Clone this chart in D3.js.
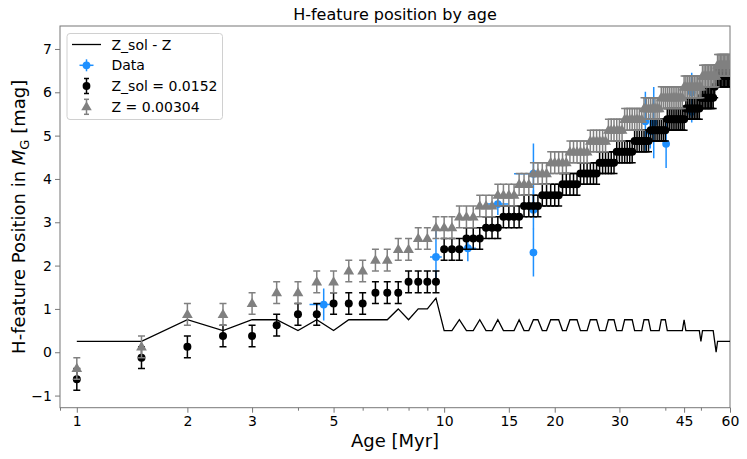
<!DOCTYPE html>
<html><head><meta charset="utf-8">
<script src="https://cdn.jsdelivr.net/npm/d3@7"></script>
<style>body{margin:0;background:#fff} svg{display:block} text{font-family:"DejaVu Sans",sans-serif}</style>
</head><body><svg id="c" width="747" height="459"></svg>
<script>
const ages = [1,1.5,2,2.5,3,3.5,4,4.5,5,5.5,6,6.5,7,7.5,8,8.5,9,9.5,10,10.5,11,11.5,12,12.5,13,13.5,14,14.5,15,15.5,16,16.5,17,17.5,18,18.5,19,19.5,20,20.5,21,21.5,22,22.5,23,23.5,24,24.5,25,25.5,26,26.5,27,27.5,28,28.5,29,29.5,30,30.5,31,31.5,32,32.5,33,33.5,34,34.5,35,35.5,36,36.5,37,37.5,38,38.5,39,39.5,40,40.5,41,41.5,42,42.5,43,43.5,44,44.5,45,45.5,46,46.5,47,47.5,48,48.5,49,49.5,50,50.5,51,51.5,52,52.5,53,53.5,54,54.5,55,55.5,56,56.5,57,57.5,58,58.5,59,59.5,60];
const zSolar = [
 -0.625,-0.125,0.125,0.375,0.375,0.625,0.875,0.875,1.125,1.125,
 1.125,1.375,1.375,1.375,1.625,1.625,1.625,1.625,2.375,2.375,
 2.375,2.625,2.625,2.625,2.875,2.875,2.875,3.125,3.125,3.125,
 3.125,3.375,3.375,3.375,3.375,3.625,3.625,3.625,3.625,3.625,
 3.875,3.875,3.875,3.875,3.875,4.125,4.125,4.125,4.125,4.125,
 4.125,4.375,4.375,4.375,4.375,4.375,4.375,4.625,4.625,4.625,
 4.625,4.625,4.625,4.625,4.875,4.875,4.875,4.875,4.875,4.875,
 4.875,5.125,5.125,5.125,5.125,5.125,5.125,5.125,5.125,5.375,
 5.375,5.375,5.375,5.375,5.375,5.375,5.375,5.375,5.375,5.625,
 5.625,5.625,5.625,5.625,5.625,5.625,5.625,5.625,5.875,5.875,
 5.875,5.875,5.875,5.875,5.875,5.875,5.875,6.125,6.375,6.375,
 6.375,6.375,6.375,6.375,6.375,6.375,6.375,6.375,6.375];
const zLow = [
 -0.375,0.125,0.875,0.875,1.125,1.375,1.375,1.625,1.625,1.875,
 1.875,2.125,2.125,2.375,2.375,2.625,2.625,2.875,2.875,2.875,
 3.125,3.125,3.125,3.375,3.375,3.375,3.625,3.625,3.625,3.625,
 3.875,3.875,3.875,4.125,4.125,4.125,4.125,4.375,4.375,4.375,
 4.375,4.375,4.625,4.625,4.625,4.625,4.625,4.625,4.875,4.875,
 4.875,4.875,4.875,4.875,5.125,5.125,5.125,5.125,5.125,5.125,
 5.375,5.375,5.375,5.375,5.375,5.375,5.375,5.375,5.625,5.625,
 5.625,5.625,5.625,5.625,5.625,5.625,5.875,5.875,5.875,5.875,
 5.875,5.875,5.875,5.875,5.875,5.875,5.875,5.875,6.125,6.125,
 6.125,6.125,6.125,6.125,6.125,6.125,6.125,6.125,6.125,6.375,
 6.375,6.375,6.375,6.375,6.375,6.375,6.375,6.375,6.375,6.625,
 6.625,6.625,6.625,6.625,6.625,6.625,6.625,6.625,6.625];
const zDiff = [
 0.25,0.25,0.75,0.5,0.75,0.75,0.5,0.75,0.5,0.75,
 0.75,0.75,0.75,1.0,0.75,1.0,1.0,1.25,0.5,0.5,
 0.75,0.5,0.5,0.75,0.5,0.5,0.75,0.5,0.5,0.5,
 0.75,0.5,0.5,0.75,0.75,0.5,0.5,0.75,0.75,0.75,
 0.5,0.5,0.75,0.75,0.75,0.5,0.5,0.5,0.75,0.75,
 0.75,0.5,0.5,0.5,0.75,0.75,0.75,0.5,0.5,0.5,
 0.75,0.75,0.75,0.75,0.5,0.5,0.5,0.5,0.75,0.75,
 0.75,0.5,0.5,0.5,0.5,0.5,0.75,0.75,0.75,0.5,
 0.5,0.5,0.5,0.5,0.5,0.5,0.5,0.5,0.75,0.5,
 0.5,0.5,0.5,0.5,0.5,0.5,0.5,0.5,0.25,0.5,
 0.5,0.5,0.5,0.5,0.5,0.5,0.5,0.25,0,0.25,
 0.25,0.25,0.25,0.25,0.25,0.25,0.25,0.25,0.25];
const solarErr = 0.25;
const lowErr = 0.25;
const dataAge    = [4.7, 9.5, 11.6, 14.0, 17.5, 17.5, 17.5, 35.3, 36.4, 37.2, 40.2, 47.2, 47.2];
const dataAgeErr = [0.4, 0.35, 0.6, 1.0, 2.0, 0.5, 0.0, 0.5, 0.5, 0.5, 0.5, 0.5, 0.5];
const dataMag    = [1.1, 2.2, 2.4, 3.42, 4.12, 3.29, 2.3, 5.33, 5.1, 5.3, 4.81, 6.0, 5.55];
const dataMagErr = [0.37, 0.63, 0.3, 0.25, 0.7, 0.45, 0.55, 0.68, 0.4, 0.82, 0.56, 0.45, 0.25];
const xTicks = [1,2,3,5,10,15,20,30,45,60];
const xMinorTicks = [0.9,4,6,7,8,9,40,50];
const yTicks = [-1,0,1,2,3,4,5,6,7];
const legendLabels = ["Z_sol - Z","Data","Z_sol = 0.0152","Z = 0.00304"];

const svg = d3.select("#c");
const L = 60, R = 730, T = 26, B = 407.7;
const x = d3.scaleLog().domain([0.9, 60]).range([L, R]);
const y = d3.scaleLinear().domain([-1.28, 7.53]).range([B, T]);
const spine = "#777";

// title
svg.append("text").attr("x", (L+R)/2).attr("y", 19.5).attr("text-anchor","middle")
  .attr("font-size", 16).text("H-feature position by age");

// axes
const xAxis = d3.axisBottom(x).tickValues(xTicks).tickFormat(d3.format("d")).tickSize(5).tickPadding(3);
const gx = svg.append("g").attr("transform", `translate(0,${B})`).call(xAxis);
const xMinor = d3.axisBottom(x).tickValues(xMinorTicks).tickFormat("").tickSize(3);
const gxm = svg.append("g").attr("transform", `translate(0,${B})`).call(xMinor);
gxm.select(".domain").remove();
const yAxis = d3.axisLeft(y).tickValues(yTicks).tickFormat(d => d < 0 ? "\u2212" + Math.abs(d) : d).tickSize(5).tickPadding(3);
const gy = svg.append("g").attr("transform", `translate(${L},0)`).call(yAxis);
[gx, gxm, gy].forEach(g => {
  g.selectAll("line").attr("stroke", spine);
  g.selectAll("text").attr("font-size", 14).attr("fill", "#000").style("font-family","DejaVu Sans");
  g.select(".domain").remove();
});
svg.append("rect").attr("x", L).attr("y", T).attr("width", R-L).attr("height", B-T)
  .attr("fill","none").attr("stroke", spine).attr("stroke-width", 1);

// axis labels
svg.append("text").attr("x", (L+R)/2).attr("y", 447).attr("text-anchor","middle")
  .attr("font-size", 18).text("Age [Myr]");
const yl = svg.append("text").attr("transform", `translate(25,${(T+B)/2}) rotate(-90)`)
  .attr("text-anchor","middle").attr("font-size", 18);
yl.append("tspan").text("H-feature Position in ");
yl.append("tspan").attr("font-style","italic").text("M");
yl.append("tspan").attr("font-size", 13).attr("dy", 4).text("G");
yl.append("tspan").attr("dy", -4).text(" [mag]");

const plot = svg.append("g");
plot.append("clipPath").attr("id","clip").append("rect").attr("x", L).attr("y", T).attr("width", R-L).attr("height", B-T);
const pg = plot.append("g").attr("clip-path","url(#clip)");

// difference line
pg.append("path").datum(ages.map((a,i)=>[a, zDiff[i]]))
  .attr("d", d3.line().x(d=>x(d[0])).y(d=>y(d[1])))
  .attr("fill","none").attr("stroke","#000").attr("stroke-width",1.3);

// blue data
const blue = "#1e90ff";
dataAge.forEach((a,i) => {
  const g = pg.append("g");
  g.append("line").attr("x1", x(a-dataAgeErr[i])).attr("x2", x(a+dataAgeErr[i]))
    .attr("y1", y(dataMag[i])).attr("y2", y(dataMag[i])).attr("stroke", blue).attr("stroke-width", 1.5);
  g.append("line").attr("x1", x(a)).attr("x2", x(a))
    .attr("y1", y(dataMag[i]-dataMagErr[i])).attr("y2", y(dataMag[i]+dataMagErr[i])).attr("stroke", blue).attr("stroke-width", 1.5);
  g.append("circle").attr("cx", x(a)).attr("cy", y(dataMag[i])).attr("r", 3.9).attr("fill", blue);
});

function errSeries(vals, err, color, marker) {
  const cap = 3.5;
  ages.forEach((a,i) => {
    const cx = x(a), v = vals[i];
    const g = pg.append("g").attr("stroke", color).attr("stroke-width", 1.5);
    g.append("line").attr("x1", cx).attr("x2", cx).attr("y1", y(v-err)).attr("y2", y(v+err));
    g.append("line").attr("x1", cx-cap).attr("x2", cx+cap).attr("y1", y(v-err)).attr("y2", y(v-err));
    g.append("line").attr("x1", cx-cap).attr("x2", cx+cap).attr("y1", y(v+err)).attr("y2", y(v+err));
  });
  ages.forEach((a,i) => {
    const cx = x(a), cy = y(vals[i]);
    if (marker === "circle") pg.append("circle").attr("cx", cx).attr("cy", cy).attr("r", 4).attr("fill", color);
    else pg.append("path").attr("d", d3.symbol(d3.symbolTriangle, 50)()).attr("transform", `translate(${cx},${cy+0.5})`).attr("fill", color);
  });
}
errSeries(zSolar, solarErr, "#000", "circle");
errSeries(zLow, lowErr, "#808080", "triangle");

// legend
const lg = svg.append("g");
lg.append("rect").attr("x", 67).attr("y", 33.5).attr("width", 155.5).attr("height", 86).attr("rx", 3)
  .attr("fill", "#fff").attr("fill-opacity", 0.8).attr("stroke", "#d0d0d0").attr("stroke-width", 1);
const rows = [44.5, 65.3, 86, 106.8];
const hx = 86.5;
lg.append("line").attr("x1", 72).attr("x2", 101).attr("y1", rows[0]).attr("y2", rows[0]).attr("stroke", "#000").attr("stroke-width", 1.3);
lg.append("line").attr("x1", hx-7).attr("x2", hx+7).attr("y1", rows[1]).attr("y2", rows[1]).attr("stroke", blue).attr("stroke-width", 1.5);
lg.append("line").attr("x1", hx).attr("x2", hx).attr("y1", rows[1]-6).attr("y2", rows[1]+6).attr("stroke", blue).attr("stroke-width", 1.5);
lg.append("circle").attr("cx", hx).attr("cy", rows[1]).attr("r", 3.9).attr("fill", blue);
[[rows[2], "#000"], [rows[3], "#808080"]].forEach(([ry, c], k) => {
  lg.append("line").attr("x1", hx).attr("x2", hx).attr("y1", ry-7.5).attr("y2", ry+7.5).attr("stroke", c).attr("stroke-width", 1.5);
  lg.append("line").attr("x1", hx-2.5).attr("x2", hx+2.5).attr("y1", ry-7.5).attr("y2", ry-7.5).attr("stroke", c).attr("stroke-width", 1.5);
  lg.append("line").attr("x1", hx-2.5).attr("x2", hx+2.5).attr("y1", ry+7.5).attr("y2", ry+7.5).attr("stroke", c).attr("stroke-width", 1.5);
  if (k === 0) lg.append("circle").attr("cx", hx).attr("cy", ry).attr("r", 3.9).attr("fill", c);
  else lg.append("path").attr("d", d3.symbol(d3.symbolTriangle, 48)()).attr("transform", `translate(${hx},${ry+0.5})`).attr("fill", c);
});
legendLabels.forEach((t, i) => {
  lg.append("text").attr("x", 111.5).attr("y", rows[i]).attr("dy", "0.36em").attr("font-size", 14).text(t);
});
</script>
</body></html>
